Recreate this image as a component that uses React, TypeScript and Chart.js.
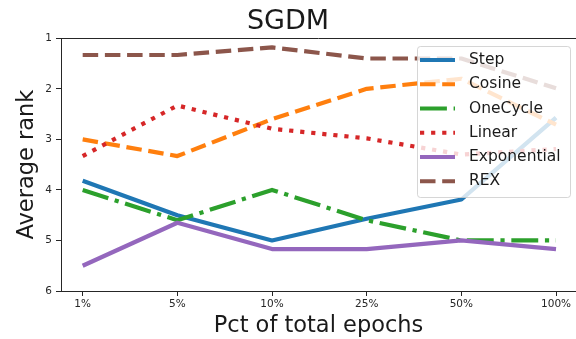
import React, { useEffect, useRef } from 'react';
import { Chart, registerables } from 'chart.js';

Chart.register(...registerables);

// ---- data ----
const categories = ['1%', '5%', '10%', '25%', '50%', '100%'];
const rankTicks = [1, 2, 3, 4, 5, 6];

const stepRank = [3.82, 4.5, 5.0, 4.57, 4.19, 2.57];
const cosineRank = [3.0, 3.33, 2.6, 2.0, 1.8, 2.71];
const oneCycleRank = [4.0, 4.6, 4.0, 4.6, 5.0, 5.0];
const linearRank = [3.33, 2.33, 2.79, 2.98, 3.3, 3.19];
const exponentialRank = [5.5, 4.65, 5.17, 5.17, 5.0, 5.17];
const rexRank = [1.33, 1.33, 1.18, 1.4, 1.4, 1.99];

const seriesNames = ['Step', 'Cosine', 'OneCycle', 'Linear', 'Exponential', 'REX'];
const seriesValues = [stepRank, cosineRank, oneCycleRank, linearRank, exponentialRank, rexRank];

// ---- styles ----
const seriesColors = ['#1f77b4', '#ff7f0e', '#2ca02c', '#d62728', '#9467bd', '#8c564b'];
const LW = 4.2;
const seriesDashes: number[][] = [
  [],
  [15.5, 6.7],
  [26.9, 6.7, 4.2, 6.7],
  [4.2, 6.9],
  [],
  [15.5, 6.7],
];

const FONT = '"DejaVu Sans", "Liberation Sans", sans-serif';
const AXIS_COLOR = '#262626';
const TEXT_COLOR = '#1a1a1a';

const topSpinePlugin = {
  id: 'topSpine',
  afterDatasetsDraw(chart: any) {
    const { ctx, chartArea } = chart;
    ctx.save();
    ctx.strokeStyle = AXIS_COLOR;
    ctx.lineWidth = 1;
    ctx.beginPath();
    const y = Math.round(chartArea.top) + 0.5;
    ctx.moveTo(chartArea.left, y);
    ctx.lineTo(chartArea.right, y);
    ctx.stroke();
    ctx.restore();
  },
};

const legendPlugin = {
  id: 'mplLegend',
  afterDraw(chart: any) {
    const { ctx } = chart;
    ctx.save();
    const x0 = 417.5;
    const y0 = 46.5;
    const w = 153;
    const h = 151;
    ctx.beginPath();
    if (ctx.roundRect) ctx.roundRect(x0, y0, w, h, 3);
    else ctx.rect(x0, y0, w, h);
    ctx.fillStyle = 'rgba(255,255,255,0.8)';
    ctx.fill();
    ctx.strokeStyle = 'rgba(204,204,204,0.8)';
    ctx.lineWidth = 1;
    ctx.stroke();
    seriesNames.forEach((name, i) => {
      const y = 60 + i * 24.25;
      ctx.beginPath();
      ctx.setLineDash(seriesDashes[i]);
      ctx.lineDashOffset = 0;
      ctx.strokeStyle = seriesColors[i];
      ctx.lineWidth = LW;
      ctx.lineCap = 'butt';
      ctx.moveTo(420, y);
      ctx.lineTo(455, y);
      ctx.stroke();
      ctx.setLineDash([]);
      ctx.fillStyle = TEXT_COLOR;
      ctx.font = `15.5px ${FONT}`;
      ctx.textBaseline = 'middle';
      ctx.textAlign = 'left';
      ctx.fillText(name, 469, y);
    });
    ctx.restore();
  },
};

export default function App() {
  const canvasRef = useRef<HTMLCanvasElement | null>(null);

  useEffect(() => {
    const canvas = canvasRef.current;
    if (!canvas) return;
    Chart.defaults.font.family = FONT;

    const datasets = seriesNames.map((name, i) => ({
      label: name,
      data: seriesValues[i].map((v, j) => ({ x: j, y: v })),
      borderColor: seriesColors[i],
      backgroundColor: seriesColors[i],
      borderWidth: LW,
      borderDash: seriesDashes[i],
      borderCapStyle: 'butt' as const,
      borderJoinStyle: 'round' as const,
      pointRadius: 0,
      pointHoverRadius: 0,
      fill: false,
      tension: 0,
      order: seriesNames.length - 1 - i,
    }));

    const chart = new Chart(canvas, {
      type: 'line',
      data: { datasets },
      plugins: [topSpinePlugin, legendPlugin],
      options: {
        animation: false,
        responsive: false,
        maintainAspectRatio: false,
        layout: { padding: { top: 0, left: 0, right: 0, bottom: 0 } },
        plugins: {
          legend: { display: false },
          tooltip: { enabled: false },
          title: {
            display: true,
            text: 'SGDM',
            color: TEXT_COLOR,
            font: { size: 27, weight: 'normal', family: FONT, lineHeight: 1.2 },
            padding: { top: 5.5, bottom: 0.4 },
          },
        },
        scales: {
          x: {
            type: 'linear',
            min: -0.229,
            max: 5.211,
            afterBuildTicks: (scale: any) => {
              scale.ticks = categories.map((_, i) => ({ value: i }));
            },
            afterFit: (scale: any) => {
              scale.height = 48;
            },
            ticks: {
              callback: (v: any) => categories[v] ?? '',
              color: AXIS_COLOR,
              font: { size: 10.5, family: FONT },
              padding: 2,
              maxRotation: 0,
              autoSkip: false,
            },
            grid: {
              drawOnChartArea: false,
              drawTicks: true,
              tickLength: 5,
              color: AXIS_COLOR,
              lineWidth: 1,
            },
            border: { display: true, color: AXIS_COLOR, width: 1 },
            title: {
              display: true,
              text: 'Pct of total epochs',
              color: TEXT_COLOR,
              font: { size: 22.5, family: FONT, lineHeight: 1.15 },
              padding: { top: 0, bottom: 0 },
            },
          },
          y: {
            type: 'linear',
            reverse: true,
            min: 1,
            max: 6,
            afterBuildTicks: (scale: any) => {
              scale.ticks = rankTicks.map((v) => ({ value: v }));
            },
            afterFit: (scale: any) => {
              scale.width = 61;
            },
            ticks: {
              color: AXIS_COLOR,
              font: { size: 10.5, family: FONT },
              padding: 4,
              autoSkip: false,
            },
            grid: {
              drawOnChartArea: false,
              drawTicks: true,
              tickLength: 5,
              color: AXIS_COLOR,
              lineWidth: 1,
            },
            border: { display: true, color: AXIS_COLOR, width: 1 },
            title: {
              display: true,
              text: 'Average rank',
              color: TEXT_COLOR,
              font: { size: 22.5, family: FONT, lineHeight: 1.2 },
              padding: { top: 13.2, bottom: 0 },
            },
          },
        },
      } as any,
    });

    return () => {
      chart.destroy();
    };
  }, []);

  return (
    <div style={{ position: 'absolute', left: 0, top: 0, width: 576, height: 339, background: '#fff' }}>
      <canvas ref={canvasRef} width={576} height={339} style={{ width: 576, height: 339, display: 'block' }} />
    </div>
  );
}
